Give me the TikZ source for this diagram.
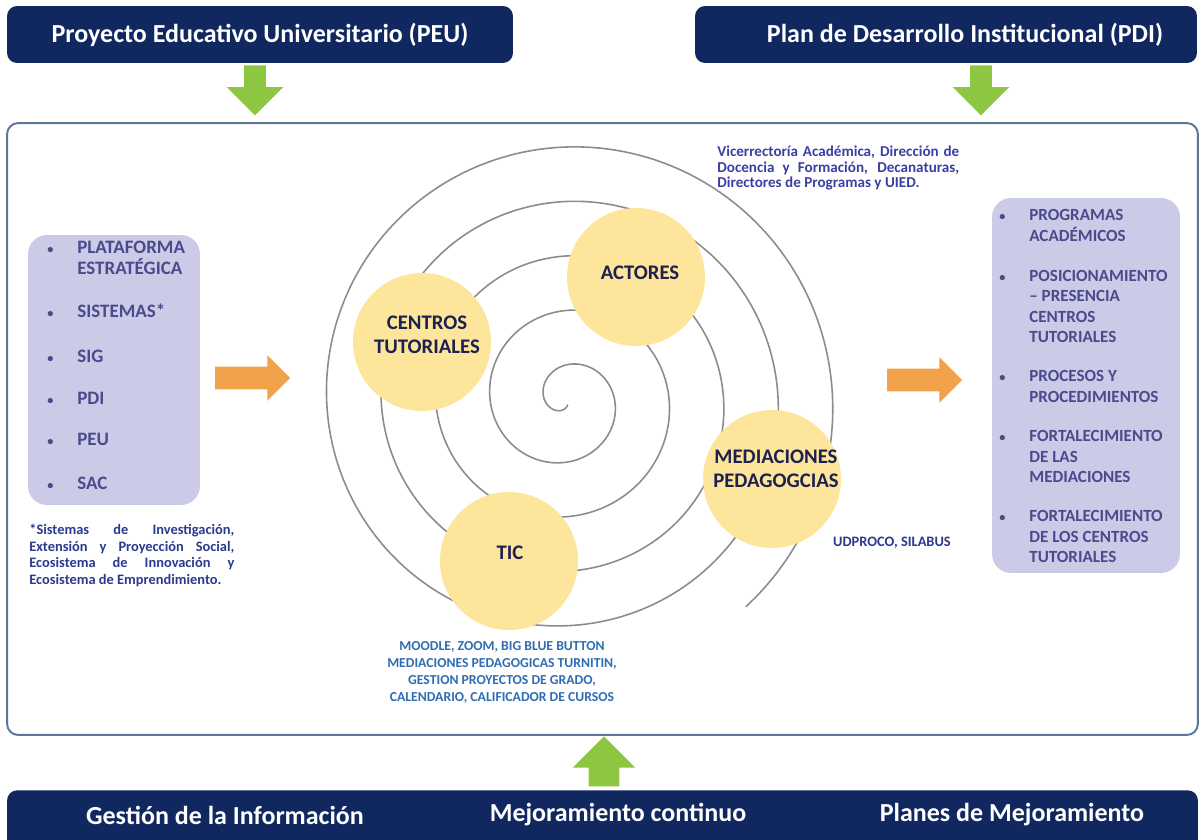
\documentclass[tikz,border=0pt]{standalone}
\usepackage{fontspec}
\setmainfont{Carlito}
\usetikzlibrary{shapes.arrows}

\definecolor{azulmarino}{HTML}{10285F}
\definecolor{verdeflecha}{HTML}{8DC641}
\definecolor{naranja}{HTML}{F2A24A}
\definecolor{lavanda}{HTML}{CBCBE8}
\definecolor{textolista}{HTML}{4A4A8C}
\definecolor{amarillo}{HTML}{FDE59B}
\definecolor{tinta}{HTML}{1C2150}
\definecolor{bordemarco}{HTML}{5A7797}
\definecolor{grisespiral}{HTML}{8C8C8C}
\definecolor{azulnota}{HTML}{2B3A8E}
\definecolor{azulactores}{HTML}{3A40A2}
\definecolor{azultic}{HTML}{2F6DB3}

\newcommand{\elemento}[1]{\begin{tabular}{@{}p{0.6cm}@{}l@{}}{\fontsize{7}{7}\selectfont\textbullet} & #1\end{tabular}}

\tikzset{
  cabecera/.style={fill=azulmarino, rounded corners=0.2cm, text=white,
    font=\bfseries\fontsize{14.8}{16}\selectfont, minimum height=1.14cm},
  textobarra/.style={text=white, font=\bfseries\fontsize{14.8}{16}\selectfont},
  recuadro/.style={draw=bordemarco, line width=1.1pt, fill=white, rounded corners=0.22cm},
  flechaverde/.style={single arrow, fill=verdeflecha, inner sep=0.21cm,
    minimum height=1cm, minimum width=1.12cm, single arrow head extend=0.35cm},
  flechanaranja/.style={single arrow, fill=naranja, inner sep=0.22cm,
    minimum height=1.5cm, minimum width=0.9cm, single arrow head extend=0.23cm},
  panel/.style={fill=lavanda, rounded corners=0.38cm},
  itemlista/.style={anchor=west, inner sep=0pt, text=textolista,
    font=\bfseries\fontsize{10.8}{11.4}\selectfont},
  itemsalida/.style={itemlista, font=\bfseries\fontsize{9.7}{11.4}\selectfont},
  circulo/.style={circle, fill=amarillo, minimum size=2.76cm, inner sep=0pt},
  textocirculo/.style={align=center, inner sep=0pt, text=tinta,
    font=\bfseries\fontsize{11.8}{13.7}\selectfont},
  espiral/.style={draw=grisespiral, line width=0.9pt},
}

\begin{document}
\begin{tikzpicture}[x=0.02cm, y=-0.02cm]
\useasboundingbox (0,0) rectangle (1204,839);

% cabeceras superiores
\node[cabecera, minimum width=10.12cm] (peu) at (260,34.5) {Proyecto Educativo Universitario (PEU)};
\node[cabecera, minimum width=10.04cm] (pdi) at (946,34.5) {\hspace*{0.76cm}Plan de Desarrollo Institucional (PDI)};

% marco central
\node[recuadro, minimum width=23.82cm, minimum height=12.24cm] (marco) at (602.5,429) {};

% flechas verdes
\node[flechaverde, rotate=-90] (fpeu) at (255,85) {};
\node[flechaverde, rotate=-90] (fpdi) at (981,85) {};
\node[flechaverde, rotate=90, inner sep=0.3cm, minimum width=1.24cm, single arrow head extend=0.32cm] (fmejora) at (604,769) {};

% barra inferior
\node[fill=azulmarino, rounded corners=0.2cm, minimum width=23.82cm, minimum height=1.4cm, anchor=north] (barra) at (602.5,790) {};
\node[textobarra] (gestion) at (225,815) {Gestión de la Información};
\node[textobarra] (mejora) at (618,815) {Mejoramiento continuo};
\node[textobarra] (planes) at (1012,815) {Planes de Mejoramiento};

% entradas
\node[panel, minimum width=3.44cm, minimum height=5.4cm] (entradas) at (114,370) {};
\node[itemlista] (plataforma) at (47,260) {\elemento{PLATAFORMA\\ & ESTRATÉGICA}};
\node[itemlista] (sistemas) at (47,313) {\elemento{SISTEMAS*}};
\node[itemlista] (sig) at (47,358) {\elemento{SIG}};
\node[itemlista] (pdiitem) at (47,400) {\elemento{PDI}};
\node[itemlista] (peuitem) at (47,441) {\elemento{PEU}};
\node[itemlista] (sac) at (47,485) {\elemento{SAC}};
\node[anchor=north west, inner sep=0pt, text width=4.1cm, align=justify, text=azulnota,
  font=\bfseries\fontsize{8.2}{9.4}\selectfont] (nota) at (29,524)
  {*Sistemas de Investigación,\linebreak Extensión y Proyección Social,\linebreak Ecosistema de Innovación y\linebreak Ecosistema de Emprendimiento.};

\node[flechanaranja] (fentrada) at (247,378) {};

% espiral
\draw[espiral] plot[domain=-110:1669, samples=600, smooth, variable=\t]
  ({566+(21.4+0.15139*\t)*cos(180+\t)}, {400+(21.4+0.15139*\t)*sin(180+\t)});

\node[circulo] (centros) at (422,342) {};
\node[circulo] (actores) at (636,277) {};
\node[circulo] (tic) at (509,561) {};
\node[circulo] (mediaciones) at (772,479) {};
\node[textocirculo] (tcentros) at (427,335) {CENTROS\\TUTORIALES};
\node[textocirculo] (tactores) at (640,273) {ACTORES};
\node[textocirculo] (ttic) at (510,553) {TIC};
\node[textocirculo] (tmediaciones) at (776,469) {MEDIACIONES\\PEDAGOGCIAS};

\node[anchor=north west, inner sep=0pt, text width=4.84cm, align=justify, text=azulactores,
  font=\bfseries\fontsize{8.6}{8.8}\selectfont] (responsables) at (717,146)
  {Vicerrectoría Académica, Dirección de\linebreak Docencia y Formación, Decanaturas,\linebreak Directores de Programas y UIED.};
\node[inner sep=0pt, text=azulnota, font=\bfseries\fontsize{8.2}{9.4}\selectfont] (udproco) at (892,543) {UDPROCO, SILABUS};
\node[inner sep=0pt, align=center, text=azultic, font=\bfseries\fontsize{7.8}{9.7}\selectfont] (herramientas) at (502,672)
  {MOODLE, ZOOM, BIG BLUE BUTTON\\MEDIACIONES PEDAGOGICAS TURNITIN,\\GESTION PROYECTOS DE GRADO,\\CALENDARIO, CALIFICADOR DE CURSOS};

% salidas
\node[flechanaranja] (fsalida) at (919,380) {};
\node[panel, minimum width=3.76cm, minimum height=7.5cm] (salidas) at (1086,385.5) {};
\node[itemsalida] (programas) at (999,227) {\elemento{PROGRAMAS\\ & ACADÉMICOS}};
\node[itemsalida] (posicionamiento) at (999,308) {\elemento{POSICIONAMIENTO\\ & – PRESENCIA\\ & CENTROS\\ & TUTORIALES}};
\node[itemsalida] (procesos) at (999,388) {\elemento{PROCESOS Y\\ & PROCEDIMIENTOS}};
\node[itemsalida] (fortmediaciones) at (999,458) {\elemento{FORTALECIMIENTO\\ & DE LAS\\ & MEDIACIONES}};
\node[itemsalida] (fortcentros) at (999,538) {\elemento{FORTALECIMIENTO\\ & DE LOS CENTROS\\ & TUTORIALES}};
\end{tikzpicture}
\end{document}
